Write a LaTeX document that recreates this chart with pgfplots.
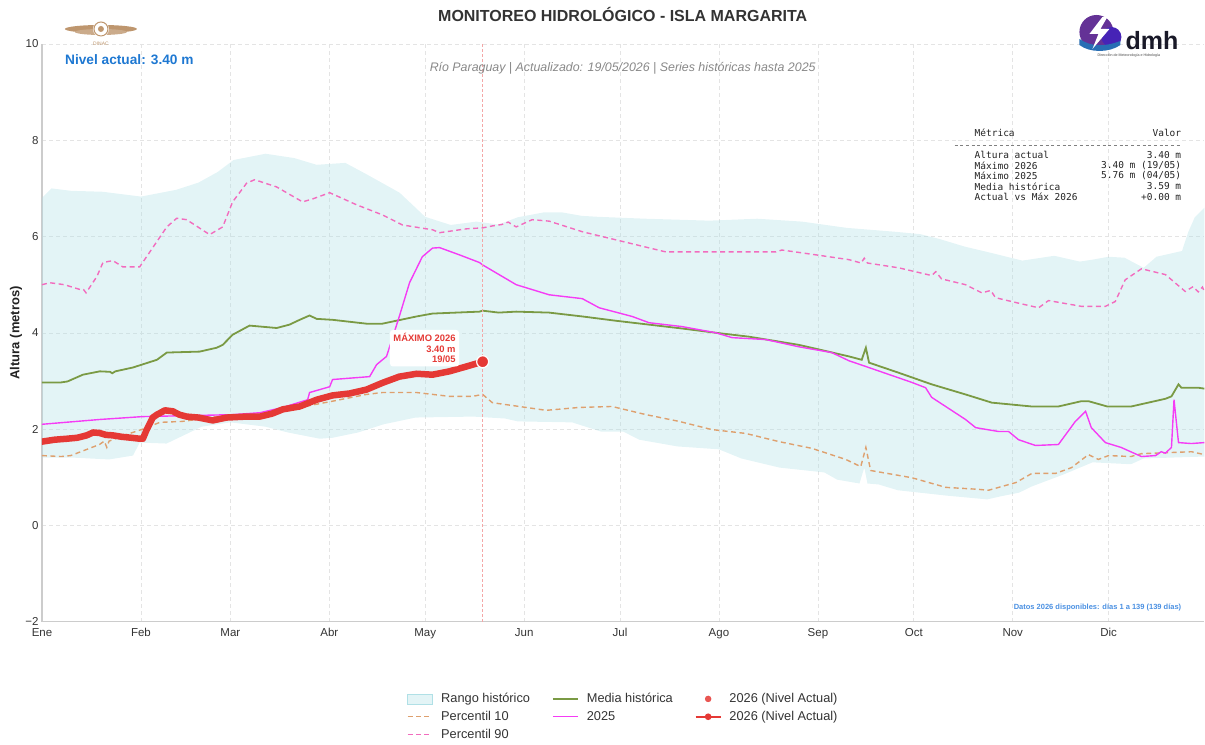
\documentclass[border=0pt]{standalone}
\usepackage{pgfplots}
\pgfplotsset{compat=1.18}
\usepgfplotslibrary{fillbetween}
\usepackage{fontspec}
\setmainfont{Liberation Sans}
\newfontfamily\monofont{DejaVu Sans Mono}
\definecolor{bandc}{RGB}{176,224,230}
\definecolor{pten}{RGB}{222,160,110}
\definecolor{pninety}{RGB}{242,108,190}
\definecolor{media}{RGB}{122,154,68}
\definecolor{yrfive}{RGB}{245,60,245}
\definecolor{yrsix}{RGB}{229,57,53}
\definecolor{vlinec}{RGB}{244,166,166}
\definecolor{gridc}{RGB}{228,228,228}
\definecolor{axisc}{RGB}{204,204,204}
\definecolor{txt}{RGB}{51,51,51}
\definecolor{blueone}{RGB}{30,120,210}
\definecolor{bluetwo}{RGB}{74,144,226}
\definecolor{dinac}{RGB}{190,150,110}
\definecolor{dmhpurple}{RGB}{100,50,150}
\definecolor{dmhblue}{RGB}{40,110,180}
\begin{document}
\begin{tikzpicture}
\path (0,0) rectangle (1205pt,745pt);
\begin{axis}[
  at={(42pt,123pt)}, anchor=south west,
  scale only axis, width=1163pt, height=578pt,
  xmin=1, xmax=365, ymin=-2, ymax=10,
  axis x line*=bottom, axis y line*=left,
  axis line style={draw=axisc, line width=1.3pt},
  xtick={1,32,60,91,121,152,182,213,244,274,305,335},
  xticklabels={Ene,Feb,Mar,Abr,May,Jun,Jul,Ago,Sep,Oct,Nov,Dic},
  ytick={-2,0,2,4,6,8,10},
  yticklabels={−2,0,2,4,6,8,10},
  major tick length=0pt,
  grid=major,
  major grid style={draw=gridc, dash pattern=on 4pt off 3pt, line width=0.6pt},
  tick label style={font=\fontsize{11.5}{13}\selectfont, text=txt},
  xticklabel style={yshift=-3pt},
  legend style={at={(0.5,-0.117)}, anchor=north, draw=none, fill=none,
    legend columns=3, font=\fontsize{12.8}{15}\selectfont, text=txt,
    /tikz/every even column/.append style={column sep=20pt},
    /tikz/every odd column/.append style={column sep=6pt}, row sep=3pt},
  legend cell align=left,
  legend image code/.code={\draw[mark repeat=2,mark phase=2,#1] plot coordinates {(0pt,0pt) (12.5pt,0pt) (25pt,0pt)};},
]
% historical range
\addplot[name path=up, draw=none, forget plot] coordinates {
(1,6.8) (4,7.0) (10,6.95) (20,6.93) (32,6.83) (43,6.97) (50,7.12) (56,7.34) (61,7.59) (71,7.72) (80,7.63) (87,7.49) (96,7.53) (103,7.28) (113,6.91) (121,6.41) (129,6.24) (137,6.31) (144,6.25) (150,6.4) (158,6.5) (164,6.5) (170,6.43) (175,6.41) (190,6.37) (210,6.33) (225,6.37) (239,6.31) (253,6.18) (268,6.1) (276,6.05) (282,5.95) (290,5.79) (297,5.68) (308,5.5) (318,5.6) (326,5.48) (330,5.52) (335,5.58) (340,5.56) (346,5.35) (350,5.58) (358,5.7) (360,6.1) (362,6.4) (365,6.6)};
\addplot[name path=lo, draw=none, forget plot] coordinates {
(1,1.41) (10,1.41) (22,1.37) (29.5,1.45) (31.6,1.72) (40,1.7) (46,1.89) (51,2.05) (60,2.14) (71,2.05) (78,1.93) (88,1.8) (92,1.82) (100,1.93) (108,2.1) (118,2.24) (136,2.26) (146,2.22) (150,2.16) (167,2.14) (176,1.95) (183,1.95) (188,1.78) (200,1.64) (213,1.58) (220,1.39) (232,1.2) (246,1.1) (250,0.95) (257,0.87) (258.5,1.2) (259.5,0.87) (263,0.85) (269,0.73) (284,0.62) (297,0.54) (301,0.6) (307,0.68) (311,0.81) (321,1.06) (330,1.31) (342,1.27) (346,1.39) (365,1.43)};
\addplot[fill=bandc, fill opacity=0.35, draw=none, forget plot] fill between[of=up and lo];
% percentile 10
\addplot[pten, line width=1.4pt, dash pattern=on 5pt off 3.5pt, forget plot] coordinates {
(1,1.45) (7,1.43) (10,1.45) (19,1.68) (20.5,1.75) (21.3,1.62) (22,1.75) (27.6,1.89) (32.6,2.0) (37.9,2.14) (45,2.16) (55.7,2.26) (71,2.3) (81.7,2.45) (92,2.58) (102.6,2.72) (107.6,2.76) (118.3,2.76) (128.6,2.68) (135.8,2.68) (139,2.72) (142,2.55) (144,2.53) (150.5,2.47) (158.9,2.39) (169.2,2.45) (179.5,2.47) (190.2,2.3) (200.5,2.16) (210.8,1.99) (221.4,1.91) (231.8,1.74) (242.1,1.6) (252.7,1.37) (257.4,1.22) (259,1.62) (260.5,1.14) (273.4,0.99) (284,0.79) (294,0.75) (297.4,0.73) (306,0.89) (311,1.08) (318.4,1.08) (323.4,1.2) (328.7,1.47) (331.8,1.37) (335,1.45) (342,1.43) (345.3,1.49) (361,1.53) (365,1.47)};
% percentile 90
\addplot[pninety, line width=1.4pt, dash pattern=on 5pt off 3.5pt, forget plot] coordinates {
(1,5.0) (3.5,5.04) (8,5.0) (12.9,4.9) (14,4.9) (14.8,4.83) (18.2,5.17) (20.1,5.46) (23.2,5.5) (26.3,5.37) (31.6,5.37) (40.1,6.2) (43.2,6.38) (46.3,6.35) (53.5,6.04) (57.6,6.2) (60.7,6.72) (65.1,7.11) (67.6,7.18) (74.5,7.03) (82.6,6.72) (85.7,6.78) (91.1,6.91) (99.5,6.66) (107.6,6.45) (113.9,6.24) (123.3,6.14) (125.5,6.08) (133.9,6.16) (139,6.18) (142,6.22) (145,6.25) (147,6.3) (149.5,6.2) (154.5,6.35) (159.8,6.32) (170.2,6.1) (180.8,5.93) (196.4,5.68) (212,5.68) (230.8,5.68) (232.7,5.72) (243.3,5.62) (253.7,5.52) (257.5,5.45) (258.5,5.55) (259.5,5.45) (269.3,5.35) (279.6,5.19) (280.9,5.27) (282.7,5.12) (290.2,5.0) (295.3,4.83) (298.1,4.88) (299.6,4.73) (305.9,4.63) (313.1,4.52) (316.2,4.67) (326.5,4.55) (334,4.55) (337.1,4.65) (340.2,5.1) (345.3,5.33) (352.8,5.21) (359,4.86) (361.5,4.96) (363.1,4.85) (364.4,4.95) (365,4.85)};
% media historica
\addplot[media, line width=1.8pt, forget plot] coordinates {
(1,2.97) (7,2.97) (9,2.99) (13.8,3.13) (19.1,3.2) (22.3,3.19) (23,3.16) (24,3.2) (29.5,3.28) (37,3.44) (40.1,3.59) (50.4,3.61) (55.7,3.69) (57.6,3.75) (60.7,3.96) (66,4.15) (74.5,4.1) (78.5,4.17) (81.7,4.27) (84.8,4.36) (87,4.29) (92,4.27) (102.6,4.19) (107.6,4.19) (118.3,4.34) (123.3,4.4) (138,4.44) (139,4.46) (144,4.42) (149.5,4.44) (159.8,4.42) (170.2,4.34) (180.8,4.25) (191.1,4.17) (201.4,4.09) (212.1,4.0) (222.4,3.92) (238,3.75) (243.3,3.67) (253.7,3.51) (257.7,3.44) (259,3.69) (260,3.38) (269.3,3.17) (279.6,2.93) (290.2,2.72) (298.4,2.55) (310.9,2.47) (319.3,2.47) (326.5,2.58) (328.7,2.58) (334.6,2.47) (342.1,2.47) (352.8,2.63) (354.7,2.68) (356.9,2.93) (357.8,2.86) (363.1,2.86) (365,2.84)};
% 2025
\addplot[yrfive, line width=1.4pt, forget plot] coordinates {
(1,2.1) (19.1,2.2) (32.6,2.26) (60.7,2.3) (69.2,2.34) (76.4,2.45) (84.2,2.61) (84.8,2.76) (91.1,2.88) (92,3.03) (103.6,3.09) (105.8,3.34) (108.9,3.51) (112.9,4.34) (116.1,5.04) (120.1,5.58) (123.3,5.76) (125.5,5.77) (131.7,5.62) (138,5.46) (139,5.41) (149.5,5.0) (159.8,4.79) (170.2,4.71) (175.5,4.52) (185.8,4.34) (191.1,4.21) (201.4,4.13) (212.1,4.0) (217.1,3.9) (227.7,3.86) (238,3.71) (248.3,3.59) (253.7,3.42) (259,3.3) (273.4,2.97) (277.7,2.86) (279.6,2.66) (290.2,2.2) (293.4,2.03) (300.6,1.95) (303.7,1.95) (306.8,1.78) (312.1,1.66) (319.3,1.68) (324.6,2.16) (327.8,2.37) (329.6,2.03) (334,1.72) (338.9,1.62) (345.3,1.43) (349.7,1.45) (351.5,1.53) (352.8,1.5) (354.7,1.62) (355.5,2.61) (356.9,1.72) (360.9,1.7) (365,1.72)};
% vertical line current day
\addplot[vlinec, line width=0.9pt, dash pattern=on 3pt off 2pt, forget plot] coordinates {(139,-2) (139,10)};
% 2026
\addplot[yrsix, line width=6.5pt, line join=round, line cap=round, forget plot] coordinates {
(1,1.74) (5,1.78) (8.8,1.8) (12,1.82) (15,1.87) (17,1.93) (19,1.92) (21,1.88) (23.2,1.87) (26,1.84) (29,1.82) (31.6,1.8) (32.6,1.8) (33.8,1.99) (35.7,2.24) (37,2.3) (39.5,2.39) (42,2.37) (44,2.3) (46.3,2.26) (50,2.24) (54.5,2.18) (58.8,2.24) (65,2.26) (69.2,2.26) (73,2.32) (76.4,2.41) (81.7,2.47) (87,2.61) (92,2.7) (97.3,2.74) (102.6,2.82) (107.6,2.96) (112.9,3.09) (118.3,3.15) (123.3,3.13) (128.6,3.2) (133.9,3.3) (139,3.40)};
\addplot[only marks, mark=*, mark size=6pt, color=yrsix, mark options={draw=white, line width=1.2pt}, forget plot] coordinates {(139,3.40)};
\node[fill=white, rounded corners=3pt, align=right, inner sep=3.5pt, text=yrsix,
  font=\fontsize{9.4}{10.5}\selectfont\bfseries] at (axis cs:120.8,3.68) {MÁXIMO 2026\\3.40 m\\19/05};
% legend (row-wise order to mimic column layout)
\addlegendimage{legend image code/.code={\fill[bandc, fill opacity=0.35] (0pt,-5pt) rectangle (25pt,5pt);}}
\addlegendentry{Rango histórico}
\addlegendimage{media, line width=1.8pt}
\addlegendentry{Media histórica}
\addlegendimage{only marks, mark=*, mark size=3pt, color=yrsix, opacity=0.85}
\addlegendentry{2026 (Nivel Actual)}
\addlegendimage{pten, line width=1.4pt, dash pattern=on 5pt off 3.5pt}
\addlegendentry{Percentil 10}
\addlegendimage{yrfive, line width=1.4pt}
\addlegendentry{2025}
\addlegendimage{yrsix, line width=1.6pt, mark=*, mark size=2.5pt}
\addlegendentry{2026 (Nivel Actual)}
\addlegendimage{pninety, line width=1.4pt, dash pattern=on 5pt off 3.5pt}
\addlegendentry{Percentil 90}
\end{axis}
% titles and annotations
\node[font=\fontsize{16}{18}\selectfont\bfseries, text=txt] at (623pt,730pt) {MONITOREO HIDROLÓGICO - ISLA MARGARITA};
\node[font=\fontsize{12.4}{14}\selectfont\itshape, text={rgb,255:red,136;green,136;blue,136}] at (623pt,677pt) {Río Paraguay | Actualizado: 19/05/2026 | Series históricas hasta 2025};
\node[anchor=west, inner sep=0pt, font=\fontsize{13.7}{16}\selectfont\bfseries, text=blueone] at (65pt,685pt) {Nivel actual: 3.40 m};
\node[rotate=90, font=\fontsize{13}{15}\selectfont\bfseries, text={rgb,255:red,34;green,34;blue,34}] at (16pt,412pt) {Altura (metros)};
\node[anchor=east, inner sep=0pt, font=\fontsize{7.5}{9}\selectfont\bfseries, text=bluetwo] at (1182pt,137pt) {Datos 2026 disponibles: días 1 a 139 (139 días)};
% metrics table
\begin{scope}[every node/.style={inner sep=0pt, font=\monofont\fontsize{9.5}{11}\selectfont, text={rgb,255:red,34;green,34;blue,34}}]
\node[anchor=west] at (975pt,612pt) {Métrica};
\node[anchor=east] at (1182pt,612pt) {Valor};
\draw[gray, line width=0.7pt, dash pattern=on 3pt off 2.7pt] (955pt,600pt) -- (1182pt,600pt);
\node[anchor=west] at (975pt,590pt) {Altura actual};
\node[anchor=east] at (1182pt,590pt) {3.40 m};
\node[anchor=west] at (975pt,579.5pt) {Máximo 2026};
\node[anchor=east] at (1182pt,579.5pt) {3.40 m (19/05)};
\node[anchor=west] at (975pt,569pt) {Máximo 2025};
\node[anchor=east] at (1182pt,569pt) {5.76 m (04/05)};
\node[anchor=west] at (975pt,558.5pt) {Media histórica};
\node[anchor=east] at (1182pt,558.5pt) {3.59 m};
\node[anchor=west] at (975pt,548pt) {Actual vs Máx 2026};
\node[anchor=east] at (1182pt,548pt) {+0.00 m};
\end{scope}
% DINAC logo (approximation)
\fill[dinac] (101pt,716pt) ellipse (36pt and 4pt);
\fill[dinac!80] (101pt,713pt) ellipse (26pt and 3pt);
\fill[white] (101pt,716pt) circle (8pt);
\draw[dinac, line width=1pt] (101pt,716pt) circle (7pt);
\fill[dinac] (101pt,716pt) circle (3pt);
\node[font=\fontsize{5}{6}\selectfont, text=dinac] at (101pt,701pt) {DINAC};
% dmh logo (approximation)
\fill[dmhpurple] (1097pt,713pt) circle (17pt);
\fill[dmhpurple!70!blue] (1112pt,708pt) circle (10pt);
\fill[dmhblue] (1080pt,700pt) .. controls (1090pt,692pt) and (1110pt,692pt) .. (1121pt,700pt) -- (1121pt,704pt) .. controls (1105pt,698pt) and (1092pt,698pt) .. (1080pt,706pt) -- cycle;
\fill[white] (1103pt,728pt) -- (1090pt,711pt) -- (1099pt,711pt) -- (1093pt,696pt) -- (1110pt,716pt) -- (1101pt,716pt) -- (1108pt,728pt) -- cycle;
\node[anchor=base west, inner sep=0pt, font=\fontsize{25}{28}\selectfont\bfseries, text={rgb,255:red,25;green,25;blue,40}] at (1126pt,695pt) {dmh};
\node[anchor=west, inner sep=0pt, font=\fontsize{3.6}{4}\selectfont, text=darkgray] at (1098pt,689pt) {Dirección de Meteorología e Hidrología};
\end{tikzpicture}
\end{document}
